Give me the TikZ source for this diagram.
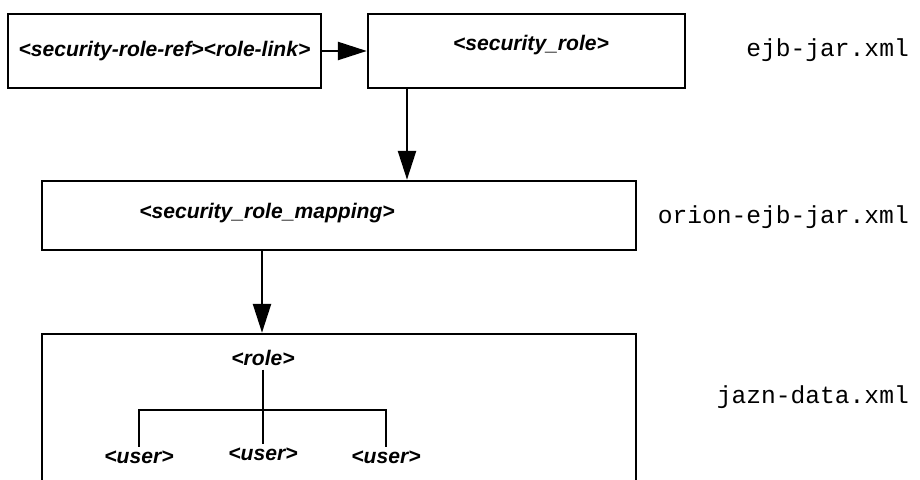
\documentclass[tikz,border=0pt]{standalone}
\usepackage{fontspec}
\setmainfont{Liberation Sans}
\newfontfamily\xmlfont{Liberation Mono}
\usetikzlibrary{arrows.meta}

\begin{document}
\begin{tikzpicture}[x=0.02cm,y=0.02cm]
\tikzstyle{tagbox}=[rectangle,draw,line width=1.4pt,inner sep=0pt]
\tikzstyle{tag}=[rectangle,inner sep=2pt,font=\fontsize{12}{14}\selectfont\bfseries\itshape]
\tikzstyle{file}=[anchor=east,font=\fontsize{14}{16}\selectfont\xmlfont]
\tikzstyle{link}=[line width=1.4pt,-{Triangle[length=0.58cm,width=0.36cm]}]
\useasboundingbox (0,0) rectangle (920,480);
\clip (0,0) rectangle (920,480);
% ejb-jar.xml
\node [tagbox,tag,minimum width=6.26cm,minimum height=1.48cm] (ref) at (164.5,429) {<security-role-ref><role-link>};
\node [tagbox,minimum width=6.34cm,minimum height=1.48cm] (srole) at (526.5,429) {};
\node [tag] (sroletxt) at (531,435) {<security\_role>};
% orion-ejb-jar.xml
\node [tagbox,minimum width=11.88cm,minimum height=1.38cm] (map) at (339,264.5) {};
\node [tag] (maptxt) at (267,267) {<security\_role\_mapping>};
% jazn-data.xml
\node [tagbox,minimum width=11.88cm,minimum height=3.32cm] (jazn) at (339,63) {};
\node [tag] (role) at (263,122) {<role>};
\node [tag] (user1) at (139,23) {<user>};
\node [tag] (user2) at (263,26) {<user>};
\node [tag] (user3) at (386,23) {<user>};
\coordinate (down1) at (407,0);
\coordinate (down2) at (262,0);
\coordinate (bar) at (0,70);
\draw [link] (ref.east) -- (srole.west);
\draw [link] (srole.south -| down1) -- (map.north -| down1);
\draw [link] (map.south -| down2) -- (jazn.north -| down2);
\draw [line width=1.4pt] (role.south) -- (role.south |- user2.north);
\draw [line width=1.4pt] (user1.north) |- (bar -| user3.north) -- (user3.north);
% file names
\node [file] (ejbfile) at (915,430) {ejb-jar.xml};
\node [file] (orionfile) at (915,263) {orion-ejb-jar.xml};
\node [file] (jaznfile) at (915,83) {jazn-data.xml};
\end{tikzpicture}
\end{document}
